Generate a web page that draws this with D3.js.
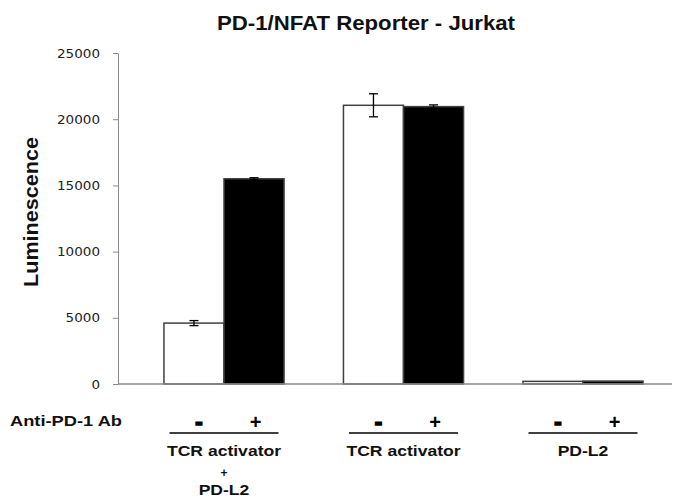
<!DOCTYPE html>
<html>
<head>
<meta charset="utf-8">
<script src="https://cdn.jsdelivr.net/npm/d3@7"></script>
<style>
  body { margin: 0; background: #fff; }
  svg { display: block; }
</style>
</head>
<body>
<svg id="chart" width="680" height="502"></svg>
<script>
// data
const groups = ['TCR activator + PD-L2', 'TCR activator', 'PD-L2'];
const treatments = ['-', '+'];
const noAb = [4600, 21050, 200];
const withAb = [15500, 20950, 220];
const errNoAb = [190, 870, 0];
const errWithAb = [80, 130, 0];
const yTicks = [0, 5000, 10000, 15000, 20000, 25000];
const groupLabels = [['TCR activator', '+', 'PD-L2'], ['TCR activator'], ['PD-L2']];

const svg = d3.select('#chart');
const bold = 'Liberation Sans, Arial, sans-serif';

// scales
const y = d3.scaleLinear().domain([0, 25000]).range([384, 53]);
const x0 = d3.scaleBand().domain(groups).range([118, 689])
    .paddingInner(0.331).paddingOuter(0.256);
const x1 = d3.scaleBand().domain(treatments).range([0, x0.bandwidth()]);

// stretch text wider, the picture is a bit wide
function widen(sel, k) {
  sel.each(function() {
    const w = this.getComputedTextLength();
    d3.select(this).attr('textLength', w * k).attr('lengthAdjust', 'spacingAndGlyphs');
  });
}

// title
svg.append('text')
    .attr('x', 366).attr('y', 30)
    .attr('text-anchor', 'middle')
    .style('font-family', bold).style('font-weight', 'bold').style('font-size', '19.5px')
    .attr('fill', '#111')
    .text('PD-1/NFAT Reporter - Jurkat')
    .attr('textLength', 298).attr('lengthAdjust', 'spacingAndGlyphs');

// y axis
const yAxis = svg.append('g')
    .attr('transform', 'translate(118,0)')
    .call(d3.axisLeft(y).tickValues(yTicks).tickFormat(d3.format('d'))
      .tickSize(5).tickSizeOuter(0).tickPadding(13));
yAxis.select('.domain').attr('stroke', '#8a8a8a');
yAxis.selectAll('.tick line').attr('stroke', '#8a8a8a');
yAxis.selectAll('.tick text')
    .style('font-family', 'DejaVu Sans, Verdana, sans-serif').style('font-size', '13px')
    .attr('fill', '#222')
    .each(function(d) {
      d3.select(this).attr('textLength', String(d).length * 8.6).attr('lengthAdjust', 'spacingAndGlyphs');
    });

svg.append('text')
    .attr('transform', 'translate(38,212) rotate(-90)')
    .attr('text-anchor', 'middle')
    .style('font-family', bold).style('font-weight', 'bold').style('font-size', '20px')
    .attr('fill', '#111')
    .text('Luminescence')
    .attr('textLength', 150).attr('lengthAdjust', 'spacingAndGlyphs');

// bars
const rows = groups.map((g, i) => ({
  g: g,
  vals: [
    { t: '-', v: noAb[i], e: errNoAb[i] },
    { t: '+', v: withAb[i], e: errWithAb[i] }
  ]
}));

const grp = svg.selectAll('.grp')
    .data(rows)
    .enter()
    .append('g')
    .attr('class', 'grp')
    .attr('transform', d => 'translate(' + x0(d.g) + ',0)');

grp.selectAll('rect')
    .data(d => d.vals)
    .enter()
    .append('rect')
    .attr('x', d => x1(d.t))
    .attr('y', d => y(d.v))
    .attr('width', x1.bandwidth())
    .attr('height', d => y(0) - y(d.v))
    .attr('fill', d => d.t === '-' ? '#fff' : '#000')
    .attr('stroke', '#404040')
    .attr('stroke-width', 1.5);

// error bars
const eb = grp.selectAll('.err')
    .data(d => d.vals.filter(v => v.e > 0))
    .enter()
    .append('g')
    .attr('class', 'err')
    .attr('stroke', '#000')
    .attr('stroke-width', 1.3);
eb.append('line')
    .attr('x1', d => x1(d.t) + x1.bandwidth() / 2)
    .attr('x2', d => x1(d.t) + x1.bandwidth() / 2)
    .attr('y1', d => y(d.v + d.e))
    .attr('y2', d => y(d.v - d.e));
[1, -1].forEach(s => {
  eb.append('line')
      .attr('x1', d => x1(d.t) + x1.bandwidth() / 2 - 4.5)
      .attr('x2', d => x1(d.t) + x1.bandwidth() / 2 + 4.5)
      .attr('y1', d => y(d.v + s * d.e))
      .attr('y2', d => y(d.v + s * d.e));
});

// x axis line
svg.append('line')
    .attr('x1', 118).attr('x2', 672)
    .attr('y1', y(0)).attr('y2', y(0))
    .attr('stroke', '#8a8a8a').attr('stroke-width', 1.3);

// treatment row
svg.append('text')
    .attr('x', 10).attr('y', 426)
    .style('font-family', bold).style('font-weight', 'bold').style('font-size', '15px')
    .attr('fill', '#111')
    .text('Anti-PD-1 Ab')
    .attr('textLength', 112).attr('lengthAdjust', 'spacingAndGlyphs');

grp.selectAll('.sign')
    .data(d => d.vals)
    .enter()
    .append('text')
    .attr('class', 'sign')
    .attr('x', d => x1(d.t) + x1.bandwidth() / 2 + (d.t === '-' ? 5 : 1.5))
    .attr('y', 429)
    .attr('text-anchor', 'middle')
    .style('font-family', bold).style('font-weight', 'bold')
    .style('font-size', d => d.t === '-' ? '22px' : '20px')
    .attr('fill', '#000')
    .attr('stroke', d => d.t === '-' ? '#000' : 'none')
    .attr('stroke-width', 1.6)
    .text(d => d.t);

grp.append('line')
    .attr('x1', x0.bandwidth() / 2 - 54.5)
    .attr('x2', x0.bandwidth() / 2 + 54.5)
    .attr('y1', 433).attr('y2', 433)
    .attr('stroke', '#000').attr('stroke-width', 1.3);

grp.each(function(d, i) {
  const g = d3.select(this);
  const lines = groupLabels[i];
  const ys = [455.5, 477, 495];
  lines.forEach((t, j) => {
    const small = t === '+';
    const txt = g.append('text')
        .attr('x', x0.bandwidth() / 2)
        .attr('y', ys[j])
        .attr('text-anchor', 'middle')
        .style('font-family', bold).style('font-weight', 'bold')
        .style('font-size', small ? '12px' : '15px')
        .attr('fill', '#111')
        .text(t);
    if (!small) widen(txt, 1.17);
  });
});
</script>
</body>
</html>
